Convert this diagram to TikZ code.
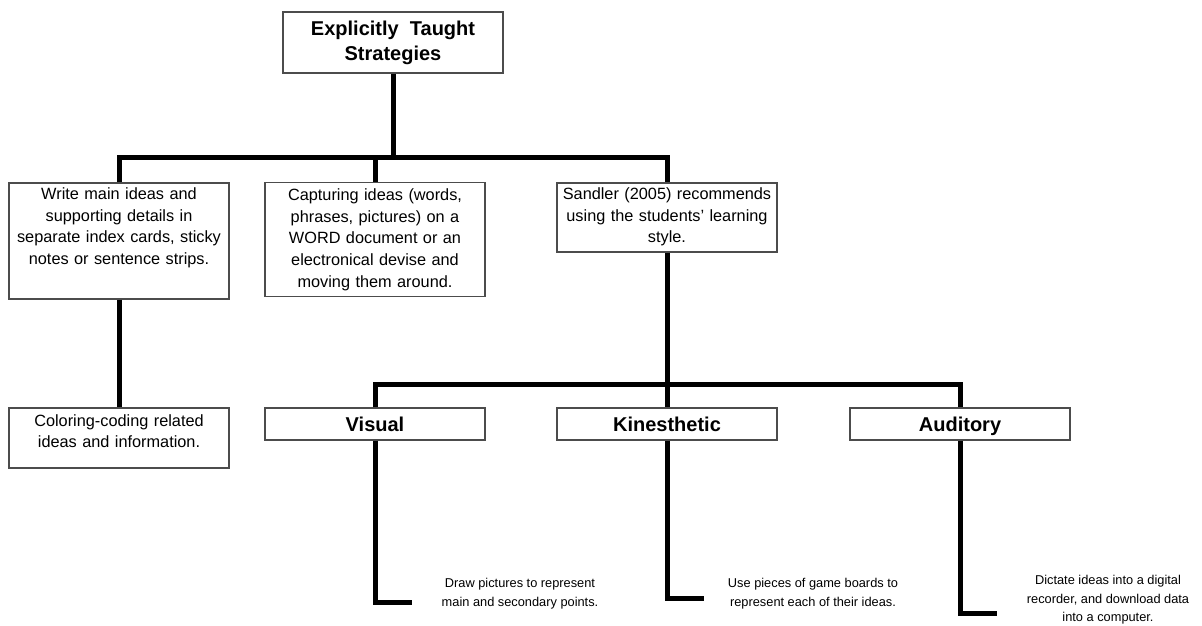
\documentclass[tikz,border=0pt]{standalone}
\usepackage{fontspec}
\setmainfont{Liberation Sans}
\begin{document}
\begin{tikzpicture}[x=1pt,y=-1pt,
  frame/.style={draw=black!70, line width=1.1pt, fill=white, inner sep=0pt},
  bodytext/.style={font=\fontsize{16.3}{21.7}\selectfont, align=center, text width=216pt, inner sep=0pt},
  headtext/.style={font=\fontsize{20}{25}\selectfont\bfseries, align=center, inner sep=0pt},
  labeltext/.style={headtext, text height=16pt, text depth=2pt},
  smalltext/.style={font=\fontsize{12.8}{18.5}\selectfont, align=center, inner sep=0pt},
  link/.style={line width=5pt, line join=miter, draw=black}]
\useasboundingbox (0,0) rectangle (1202,625);

% top heading
\node[frame, headtext, minimum width=220pt, minimum height=61pt] (top) at (393,42.5)
  {Explicitly\ \ Taught\\Strategies};

% first row
\node[frame, minimum width=220pt, minimum height=116pt] (b1) at (119,241) {};
\node[bodytext, anchor=north] (t1) at (119,187.5)
  {Write main ideas and\\supporting details in\\separate index cards, sticky\\notes or sentence strips.};
\node[frame, bodytext, minimum width=220pt, minimum height=114pt] (b2) at (375,239.5)
  {Capturing ideas (words,\\phrases, pictures) on a\\WORD document or an\\electronical devise and\\moving them around.};
\node[frame, minimum width=220pt, minimum height=69pt] (b3) at (667,217.5) {};
\node[bodytext, anchor=north] (t3) at (667,187.5)
  {Sandler (2005) recommends\\using the students' learning\\style.};

% second row
\node[frame, minimum width=220pt, minimum height=60pt] (col) at (119,438) {};
\node[bodytext, anchor=north] (tcol) at (119,414)
  {Coloring-coding related\\ideas and information.};
\node[frame, labeltext, minimum width=220pt, minimum height=32pt] (vis) at (375,424) {Visual};
\node[frame, labeltext, minimum width=220pt, minimum height=32pt] (kin) at (667,424) {Kinesthetic};
\node[frame, labeltext, minimum width=220pt, minimum height=32pt] (aud) at (960,424) {Auditory};

% descriptions of the three styles
\node[smalltext] (dv) at (520,593.5) {Draw pictures to represent\\main and secondary points.};
\node[smalltext] (dk) at (813,593.5) {Use pieces of game boards to\\represent each of their ideas.};
\node[smalltext] (da) at (1108,600) {Dictate ideas into a digital\\recorder,\ and download data\\into a computer.};

% junctions and free ends
\coordinate (j1) at (393,157);
\coordinate (j2) at (667,384);
\coordinate (ev) at (412,602);
\coordinate (ek) at (704,598);
\coordinate (ea) at (997,613);

% connectors
\draw[link] (top.south) -- (j1);
\draw[link] (b1.north) |- (j1) -| (b3.north);
\draw[link] (b2.north) -- (b2.north |- j1);
\draw[link] (b1.south) -- (col.north);
\draw[link] (b3.south) -- (kin.north);
\draw[link] (vis.north) |- (j2) -| (aud.north);
\draw[link] (vis.south) |- (ev);
\draw[link] (kin.south) |- (ek);
\draw[link] (aud.south) |- (ea);
\end{tikzpicture}
\end{document}
